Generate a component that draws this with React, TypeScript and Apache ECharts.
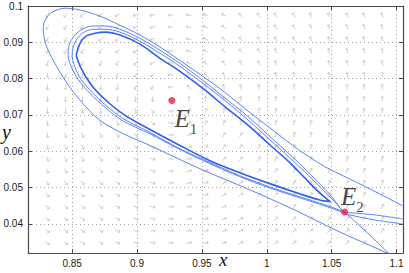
import React, { useEffect, useRef } from 'react';
import * as echarts from 'echarts';

const X_MIN = 0.816;
const X_MAX = 1.105;
const Y_MIN = 0.032;
const Y_MAX = 0.1;

// equilibria
const E1 = [0.9269, 0.074];
const E2 = [1.06, 0.0433];

// quiver grid
const quiverX = [0.831, 0.845, 0.858, 0.872, 0.885, 0.899, 0.912, 0.926, 0.94, 0.953, 0.967, 0.98, 0.994, 1.007, 1.021, 1.034, 1.048, 1.062, 1.075, 1.089];
const quiverY = [0.0348, 0.0381, 0.0414, 0.0447, 0.048, 0.0513, 0.0546, 0.0579, 0.0612, 0.0645, 0.0678, 0.0711, 0.0744, 0.0777, 0.081, 0.0843, 0.0876, 0.0909, 0.0942, 0.0975];

// outer trajectory
const curveA = [
  [1.1046, 0.045], [1.0869, 0.0483], [1.0638, 0.0524], [1.0446, 0.0558], [1.0254, 0.0602],
  [1.0062, 0.0654], [0.9869, 0.0707], [0.9638, 0.0773], [0.9408, 0.0831], [0.9177, 0.0887],
  [0.9023, 0.092], [0.8869, 0.0947], [0.8715, 0.0972], [0.8562, 0.0989], [0.8446, 0.0994],
  [0.8346, 0.0983], [0.8292, 0.0961], [0.8277, 0.0934], [0.83, 0.0892], [0.8354, 0.0851],
  [0.8446, 0.0795], [0.8562, 0.074], [0.8715, 0.0685], [0.8908, 0.0646], [0.91, 0.0616],
  [0.9485, 0.0552], [0.9869, 0.0494], [1.02, 0.0441], [1.0562, 0.0378], [1.0946, 0.0317],
  [1.1023, 0.0303],
];

// closed orbit (thick)
const curveB = [
  [0.8531, 0.0864], [0.8562, 0.0898], [0.8608, 0.0917], [0.8677, 0.0925], [0.8754, 0.0928],
  [0.8869, 0.092], [0.9023, 0.0895], [0.9177, 0.0856], [0.9331, 0.082], [0.9508, 0.0773],
  [0.9677, 0.0723], [0.9869, 0.0668], [1.0023, 0.0618], [1.0177, 0.0569], [1.0292, 0.0527],
  [1.0392, 0.0491], [1.0462, 0.0469], [1.0492, 0.0461], [1.0408, 0.0466], [1.0254, 0.0483],
  [1.0023, 0.0511], [0.9792, 0.0541], [0.9562, 0.0574], [0.9331, 0.0616], [0.91, 0.066],
  [0.8908, 0.0699], [0.8777, 0.0735], [0.8677, 0.077], [0.8608, 0.0804], [0.8562, 0.0834],
  [0.8531, 0.0864],
];

// homoclinic-like loop through E2
const curveC = [
  [1.1046, 0.0414], [1.0831, 0.0425], [1.0677, 0.043], [1.06, 0.0433], [1.0531, 0.0458],
  [1.0423, 0.0497], [1.0292, 0.0544], [1.0177, 0.0582], [1.0023, 0.0632], [0.9869, 0.0682],
  [0.9677, 0.074], [0.9508, 0.0787], [0.9331, 0.0834], [0.9177, 0.087], [0.9023, 0.0903],
  [0.8869, 0.0928], [0.8754, 0.0936], [0.8669, 0.0936], [0.8592, 0.0928], [0.8538, 0.0909],
  [0.8508, 0.0887], [0.85, 0.0862], [0.8523, 0.0831], [0.8569, 0.0798], [0.8654, 0.0762],
  [0.8762, 0.0726], [0.8892, 0.069], [0.91, 0.0652], [0.9331, 0.0607], [0.9562, 0.0569],
  [0.9792, 0.0533], [1.0023, 0.0502], [1.0254, 0.0475], [1.0446, 0.0453], [1.06, 0.0433],
];

const curveD = [
  [1.1046, 0.04], [1.0831, 0.0411], [1.0677, 0.0422], [1.06, 0.043], [1.0508, 0.0472],
  [1.0392, 0.0516], [1.0277, 0.0558], [1.0162, 0.0596], [1.0008, 0.0646], [0.9854, 0.0696],
  [0.9662, 0.0751], [0.9508, 0.0795], [0.9331, 0.0842], [0.9177, 0.0878], [0.9023, 0.0911],
  [0.8869, 0.0936], [0.8754, 0.0945], [0.8662, 0.0945], [0.8577, 0.0936], [0.8515, 0.0917],
  [0.8477, 0.0892], [0.8469, 0.0864], [0.8492, 0.0834], [0.8546, 0.0798], [0.8638, 0.0759],
  [0.8754, 0.0721], [0.8885, 0.0685], [0.91, 0.0648], [0.9331, 0.0605], [0.9562, 0.0566],
  [0.9792, 0.053], [1.0023, 0.0499], [1.0254, 0.0472], [1.0446, 0.045], [1.06, 0.043],
];

// stable branch leaving E2 downward
const curveE = [[1.06, 0.0433], [1.0777, 0.0375], [1.0946, 0.0317], [1.0985, 0.0303]];

const quiverData: number[][] = [];
quiverX.forEach((x) => quiverY.forEach((y) => quiverData.push([x, y])));

const THIN = '#5a83f2';
const THICK = '#2f5ef0';

const axisCommon = {
  type: 'value' as const,
  axisLine: { show: true, onZero: false, lineStyle: { color: '#4a4a4a', width: 1.2 } },
  axisTick: { show: true, inside: true, length: 4, lineStyle: { color: '#4a4a4a' } },
};

export default function App() {
  const ref = useRef<HTMLDivElement>(null);
  useEffect(() => {
    if (!ref.current) return;
    const chart = echarts.init(ref.current, undefined, { renderer: 'svg' });
    const labelFont = { color: '#1a1a1a', fontSize: 10, fontFamily: 'Liberation Sans' };
    const rich = {
      e: { fontFamily: 'Liberation Serif', fontStyle: 'italic', fontSize: 25, color: '#111', lineHeight: 26 },
      s: { fontFamily: 'Liberation Serif', fontSize: 15, color: '#111', verticalAlign: 'bottom', lineHeight: 26, padding: [0, 0, -5, 0] },
    };
    chart.setOption({
      animation: false,
      grid: { left: 28, right: 6, top: 6, bottom: 20, containLabel: false, outerBoundsMode: 'none' },
      xAxis: [
        {
          ...axisCommon, min: X_MIN, max: X_MAX, splitNumber: 6,
          axisLabel: { ...labelFont, margin: 5, showMinLabel: false, showMaxLabel: false },
          splitLine: { show: true, lineStyle: { color: '#a0a0a0', type: [1, 3], width: 1 } },
        },
        {
          ...axisCommon, position: 'top', min: X_MIN, max: X_MAX, splitNumber: 6,
          axisLabel: { show: false }, splitLine: { show: false },
        },
      ],
      yAxis: [
        {
          ...axisCommon, min: Y_MIN, max: Y_MAX, splitNumber: 7,
          axisLabel: { ...labelFont, margin: 5, showMinLabel: false },
          splitLine: { show: true, lineStyle: { color: '#a0a0a0', type: [1, 3], width: 1 } },
        },
        {
          ...axisCommon, position: 'right', min: Y_MIN, max: Y_MAX, splitNumber: 7,
          axisLabel: { show: false }, splitLine: { show: false },
        },
      ],
      graphic: [
        { type: 'text', left: 219, top: 250, style: { text: 'x', font: 'italic 19px "Liberation Serif"', fill: '#111' } },
        { type: 'text', left: 2, top: 122, style: { text: 'y', font: 'italic 20px "Liberation Serif"', fill: '#111' } },
      ],
      series: [
        {
          type: 'custom',
          coordinateSystem: 'cartesian2d',
          silent: true,
          z: 1,
          data: quiverData,
          encode: { x: 0, y: 1 },
          renderItem: (_p: any, api: any) => {
            const p = api.coord([api.value(0), api.value(1)]);
            const c = api.coord(E1);
            const dx = p[0] - c[0];
            const dy = p[1] - c[1];
            let vx = dy;
            let vy = -dx;
            const n = Math.hypot(vx, vy) || 1;
            vx /= n;
            vy /= n;
            const L = 2.5;
            const x1 = p[0] - vx * L, y1 = p[1] - vy * L;
            const x2 = p[0] + vx * L, y2 = p[1] + vy * L;
            const ang = Math.atan2(vy, vx);
            const h = 2;
            const a1 = ang + Math.PI - 0.9;
            const a2 = ang + Math.PI + 0.9;
            const st = { stroke: '#c6c6c6', lineWidth: 0.9 };
            return {
              type: 'group',
              children: [
                { type: 'line', shape: { x1, y1, x2, y2 }, style: st },
                { type: 'line', shape: { x1: x2, y1: y2, x2: x2 + h * Math.cos(a1), y2: y2 + h * Math.sin(a1) }, style: st },
                { type: 'line', shape: { x1: x2, y1: y2, x2: x2 + h * Math.cos(a2), y2: y2 + h * Math.sin(a2) }, style: st },
              ],
            };
          },
        },
        { type: 'line', data: curveA, showSymbol: false, smooth: 0.3, lineStyle: { color: THIN, width: 1 }, z: 3 },
        { type: 'line', data: curveD, showSymbol: false, smooth: 0.3, lineStyle: { color: THIN, width: 1 }, z: 3 },
        { type: 'line', data: curveC, showSymbol: false, smooth: 0.3, lineStyle: { color: THIN, width: 1 }, z: 3 },
        { type: 'line', data: curveE, showSymbol: false, smooth: 0.3, lineStyle: { color: THIN, width: 1 }, z: 3 },
        { type: 'line', data: curveB, showSymbol: false, smooth: 0.3, lineStyle: { color: THICK, width: 1.6 }, z: 4 },
        {
          type: 'scatter', data: [E1], symbolSize: 7, itemStyle: { color: '#ff1744' }, z: 5,
          label: { show: true, position: [6, 9], formatter: '{e|E}{s|1}', rich },
        },
        {
          type: 'scatter', data: [E2], symbolSize: 7, itemStyle: { color: '#ff1744' }, z: 5,
          label: { show: true, position: [0, -25], formatter: '{e|E}{s|2}', rich },
        },
      ],
    });
    return () => chart.dispose();
  }, []);
  return <div ref={ref} style={{ position: 'absolute', left: 0, top: 0, width: 409, height: 273 }} />;
}
